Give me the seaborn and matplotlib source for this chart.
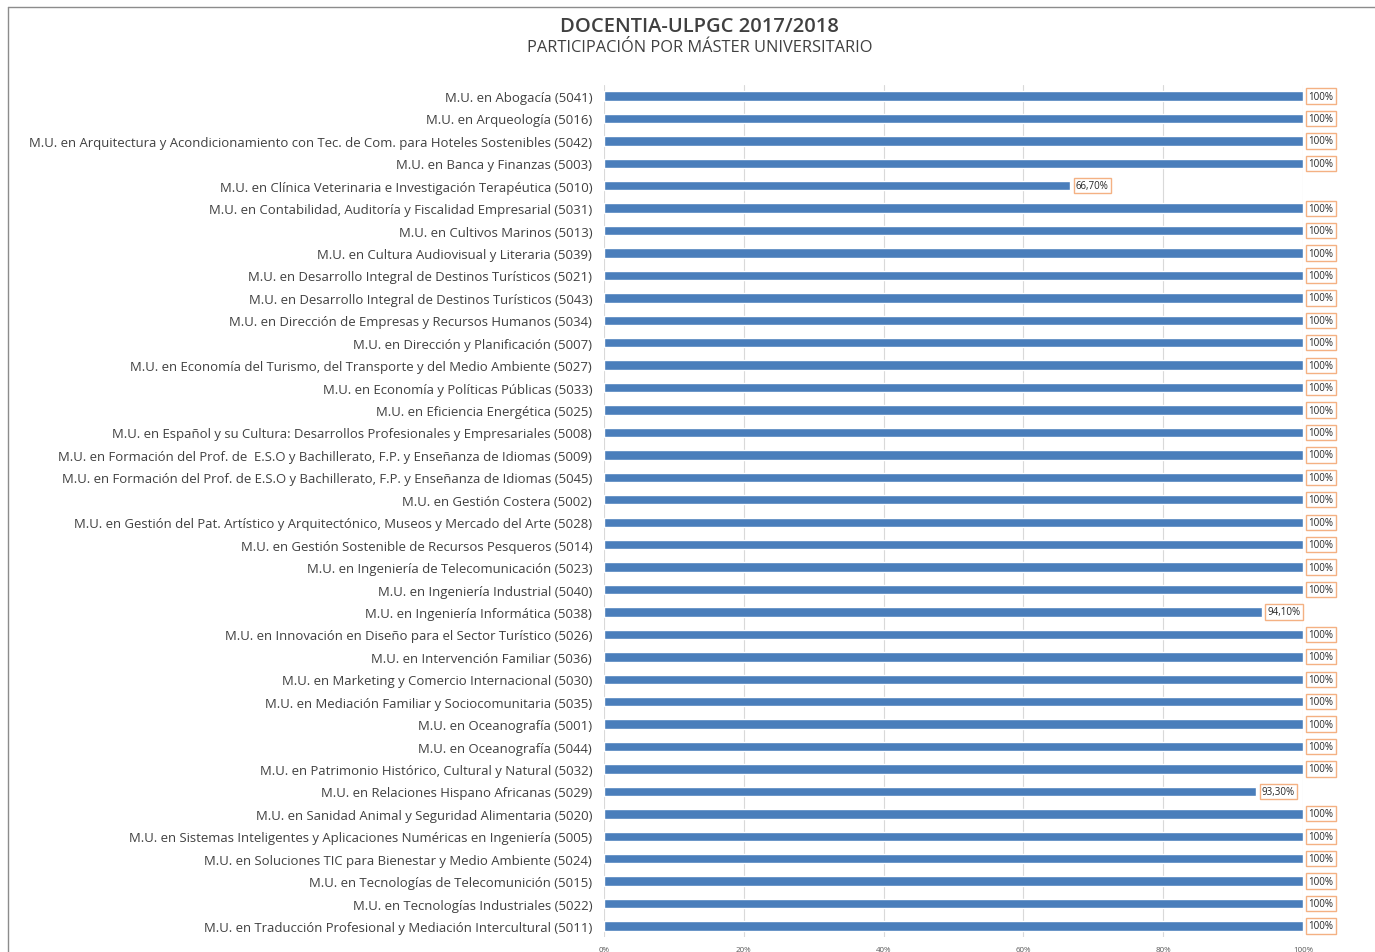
import matplotlib
matplotlib.use("Agg")
import matplotlib.pyplot as plt
import seaborn as sns
import pandas as pd
from matplotlib.lines import Line2D
from matplotlib.ticker import FixedLocator, FixedFormatter

masters = [
    "M.U. en Abogacía (5041)",
    "M.U. en Arqueología (5016)",
    "M.U. en Arquitectura y Acondicionamiento con Tec. de Com. para Hoteles Sostenibles (5042)",
    "M.U. en Banca y Finanzas (5003)",
    "M.U. en Clínica Veterinaria e Investigación Terapéutica (5010)",
    "M.U. en Contabilidad, Auditoría y Fiscalidad Empresarial (5031)",
    "M.U. en Cultivos Marinos (5013)",
    "M.U. en Cultura Audiovisual y Literaria (5039)",
    "M.U. en Desarrollo Integral de Destinos Turísticos (5021)",
    "M.U. en Desarrollo Integral de Destinos Turísticos (5043)",
    "M.U. en Dirección de Empresas y Recursos Humanos (5034)",
    "M.U. en Dirección y Planificación (5007)",
    "M.U. en Economía del Turismo, del Transporte y del Medio Ambiente (5027)",
    "M.U. en Economía y Políticas Públicas (5033)",
    "M.U. en Eficiencia Energética (5025)",
    "M.U. en Español y su Cultura: Desarrollos Profesionales y Empresariales (5008)",
    "M.U. en Formación del Prof. de  E.S.O y Bachillerato, F.P. y Enseñanza de Idiomas (5009)",
    "M.U. en Formación del Prof. de E.S.O y Bachillerato, F.P. y Enseñanza de Idiomas (5045)",
    "M.U. en Gestión Costera (5002)",
    "M.U. en Gestión del Pat. Artístico y Arquitectónico, Museos y Mercado del Arte (5028)",
    "M.U. en Gestión Sostenible de Recursos Pesqueros (5014)",
    "M.U. en Ingeniería de Telecomunicación (5023)",
    "M.U. en Ingeniería Industrial (5040)",
    "M.U. en Ingeniería Informática (5038)",
    "M.U. en Innovación en Diseño para el Sector Turístico (5026)",
    "M.U. en Intervención Familiar (5036)",
    "M.U. en Marketing y Comercio Internacional (5030)",
    "M.U. en Mediación Familiar y Sociocomunitaria (5035)",
    "M.U. en Oceanografía (5001)",
    "M.U. en Oceanografía (5044)",
    "M.U. en Patrimonio Histórico, Cultural y Natural (5032)",
    "M.U. en Relaciones Hispano Africanas (5029)",
    "M.U. en Sanidad Animal y Seguridad Alimentaria (5020)",
    "M.U. en Sistemas Inteligentes y Aplicaciones Numéricas en Ingeniería (5005)",
    "M.U. en Soluciones TIC para Bienestar y Medio Ambiente (5024)",
    "M.U. en Tecnologías de Telecomunición (5015)",
    "M.U. en Tecnologías Industriales (5022)",
    "M.U. en Traducción Profesional y Mediación Intercultural (5011)",
]

participation = [
    100, 100, 100, 100, 66.7, 100, 100, 100, 100, 100,
    100, 100, 100, 100, 100, 100, 100, 100, 100, 100,
    100, 100, 100, 94.1, 100, 100, 100, 100, 100, 100,
    100, 93.3, 100, 100, 100, 100, 100, 100,
]

x_ticks = [0, 20, 40, 60, 80, 100]
x_tick_labels = ["0%", "20%", "40%", "60%", "80%", "100%"]

title = "DOCENTIA-ULPGC 2017/2018"
subtitle = "PARTICIPACIÓN POR MÁSTER UNIVERSITARIO"


def fmt_pct(v):
    if float(v).is_integer():
        return f"{int(v)}%"
    return f"{v:.2f}".replace(".", ",") + "%"


df = pd.DataFrame({"master": masters, "pct": participation})

sns.set_theme(style="white")
plt.rcParams["font.family"] = ["Open Sans", "DejaVu Sans"]

fig = plt.figure(figsize=(13.75, 9.53), dpi=100)
ax = fig.add_axes([604 / 1375, 1 - 938.2 / 953, (1303 - 604) / 1375, (938.2 - 85.8) / 953])

sns.barplot(data=df, y="master", x="pct", orient="h", color="#4a7ebb",
            width=0.42, ax=ax, saturation=1)

ax.set_xlim(0, 100)
ax.set_ylim(len(masters) - 0.5, -0.5)
ax.xaxis.set_major_locator(FixedLocator(x_ticks))
ax.xaxis.set_major_formatter(FixedFormatter(x_tick_labels))
ax.grid(axis="x", color="#d9d9d9", linewidth=0.8)
ax.set_axisbelow(True)
for s in ax.spines.values():
    s.set_visible(False)
ax.set_xlabel("")
ax.set_ylabel("")
ax.tick_params(axis="x", labelsize=5.8, labelcolor="#595959", length=0, pad=6)
ax.tick_params(axis="y", labelsize=9.45, labelcolor="#404040", length=0, pad=8.5)

ax.bar_label(ax.containers[0], labels=[fmt_pct(v) for v in participation],
             padding=4, fontsize=7, color="#262626",
             bbox=dict(boxstyle="square,pad=0.22", fc="white", ec="#f4b183", lw=1))

fig.text(0.509, 1 - 27 / 953, title, ha="center", va="center",
         fontsize=14.5, color="#404040", fontweight="semibold")
fig.text(0.509, 1 - 48 / 953, subtitle, ha="center", va="center",
         fontsize=11.8, color="#404040", fontweight="medium")

fig.add_artist(Line2D([8 / 1375, 8 / 1375], [0, 1 - 8 / 953], transform=fig.transFigure,
                      color="#8c8c8c", lw=1))
fig.add_artist(Line2D([8 / 1375, 1], [1 - 8 / 953, 1 - 8 / 953], transform=fig.transFigure,
                      color="#8c8c8c", lw=1))

fig.savefig("out.png", dpi=100)
